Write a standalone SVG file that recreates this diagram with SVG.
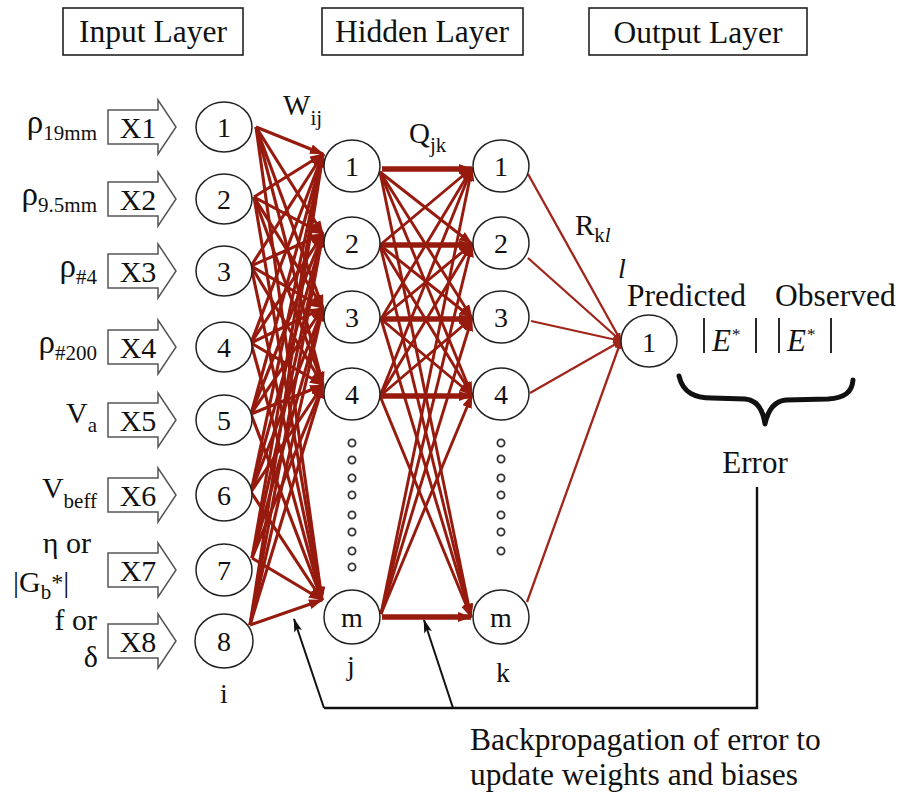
<svg xmlns="http://www.w3.org/2000/svg" xmlns:xlink="http://www.w3.org/1999/xlink" width="901" height="796" viewBox="0 0 901 796">
  <style>
    text { font-family: "Liberation Serif", "Times New Roman", serif; fill: #111; }
    .hdr { font-size: 31.5px; text-anchor: middle; }
    .box { fill: none; stroke: #222; stroke-width: 1.6; }
    .node ellipse { fill: #fff; stroke: #222; stroke-width: 1.5; }
    .node text { font-size: 28px; text-anchor: middle; }
    .inarrow { fill: #fff; stroke: #555; stroke-width: 1.5; }
    .xl { font-size: 30px; text-anchor: middle; }
    .lbl { font-size: 30px; text-anchor: end; }
    .rho { font-size: 33px; }
    .sub { font-size: 21px; }
    .w line { stroke: #961a0d; stroke-width: 3.1; marker-end: url(#ah); }
    .q line { stroke: #961a0d; stroke-width: 2.9; marker-end: url(#ah); }
    .q line.h { stroke-width: 5.5; }
    .r line { stroke: #a0251a; stroke-width: 2.3; marker-end: url(#rh); }
    .dot { fill: #fff; stroke: #333; stroke-width: 1.8; }
    .fb { fill: none; stroke: #111; stroke-width: 2.4; }
    .fbarrow { stroke: #111; stroke-width: 2; marker-end: url(#bh); }
    .big { font-size: 31.5px; }
  </style>
  <defs>
    <marker id="ah" markerUnits="userSpaceOnUse" markerWidth="14" markerHeight="10" refX="13" refY="5" orient="auto">
      <path d="M0,0 L14,5 L0,10 Z" fill="#961a0d"/>
    </marker>
    <marker id="rh" markerUnits="userSpaceOnUse" markerWidth="9" markerHeight="7" refX="8" refY="3.5" orient="auto">
      <path d="M0,0 L9,3.5 L0,7 Z" fill="#a0251a"/>
    </marker>
    <marker id="bh" markerUnits="userSpaceOnUse" markerWidth="14" markerHeight="8" refX="13" refY="4" orient="auto">
      <path d="M0,0 L14,4 L0,8 L3,4 Z" fill="#111"/>
    </marker>
    <path id="blockArrow" class="inarrow" d="M108,-17 H158 V-27 L176,0 L158,27 V17 H108 Z"/>
  </defs>

  <!-- layer headers -->
  <g id="header-input">
    <rect class="box" x="63" y="8" width="180" height="47"/>
    <text class="hdr" x="153" y="42">Input Layer</text>
  </g>
  <g id="header-hidden">
    <rect class="box" x="322" y="8" width="201" height="47"/>
    <text class="hdr" x="422" y="42">Hidden Layer</text>
  </g>
  <g id="header-output">
    <rect class="box" x="589" y="8" width="218" height="47"/>
    <text class="hdr" x="698" y="43">Output Layer</text>
  </g>

  <!-- connections -->
  <g id="connectors">
    <g class="w">
      <line x1="256" y1="127" x2="323" y2="154"/><line x1="256" y1="127" x2="323" y2="234"/><line x1="256" y1="127" x2="323" y2="308"/><line x1="256" y1="127" x2="323" y2="385"/><line x1="256" y1="127" x2="322" y2="600"/>
      <line x1="254" y1="197" x2="323" y2="154"/><line x1="254" y1="197" x2="323" y2="234"/><line x1="254" y1="197" x2="323" y2="308"/><line x1="254" y1="197" x2="323" y2="385"/><line x1="254" y1="197" x2="322" y2="600"/>
      <line x1="251" y1="266" x2="323" y2="154"/><line x1="251" y1="266" x2="323" y2="234"/><line x1="251" y1="266" x2="323" y2="308"/><line x1="251" y1="266" x2="323" y2="385"/><line x1="251" y1="266" x2="322" y2="600"/>
      <line x1="251" y1="343" x2="323" y2="154"/><line x1="251" y1="343" x2="323" y2="234"/><line x1="251" y1="343" x2="323" y2="308"/><line x1="251" y1="343" x2="323" y2="385"/><line x1="251" y1="343" x2="322" y2="600"/>
      <line x1="251" y1="414" x2="323" y2="154"/><line x1="251" y1="414" x2="323" y2="234"/><line x1="251" y1="414" x2="323" y2="308"/><line x1="251" y1="414" x2="323" y2="385"/><line x1="251" y1="414" x2="322" y2="600"/>
      <line x1="251" y1="492" x2="323" y2="154"/><line x1="251" y1="492" x2="323" y2="234"/><line x1="251" y1="492" x2="323" y2="308"/><line x1="251" y1="492" x2="323" y2="385"/><line x1="251" y1="492" x2="322" y2="600"/>
      <line x1="252" y1="558" x2="323" y2="154"/><line x1="252" y1="558" x2="323" y2="234"/><line x1="252" y1="558" x2="323" y2="308"/><line x1="252" y1="558" x2="323" y2="385"/><line x1="252" y1="558" x2="322" y2="600"/>
      <line x1="250" y1="625" x2="323" y2="154"/><line x1="250" y1="625" x2="323" y2="234"/><line x1="250" y1="625" x2="323" y2="308"/><line x1="250" y1="625" x2="323" y2="385"/><line x1="250" y1="625" x2="322" y2="600"/>
    </g>
    <g class="q">
      <line class="h" x1="382" y1="169" x2="472" y2="169"/><line x1="380" y1="172" x2="472" y2="244"/><line x1="380" y1="172" x2="472" y2="318"/><line x1="380" y1="172" x2="472" y2="395"/><line x1="380" y1="172" x2="471" y2="617"/>
      <line x1="380" y1="245" x2="472" y2="168"/><line class="h" x1="382" y1="245" x2="472" y2="245"/><line x1="380" y1="245" x2="472" y2="318"/><line x1="380" y1="245" x2="472" y2="395"/><line x1="380" y1="245" x2="471" y2="617"/>
      <line x1="381" y1="319" x2="472" y2="168"/><line x1="381" y1="319" x2="472" y2="244"/><line class="h" x1="382" y1="319" x2="472" y2="319"/><line x1="381" y1="319" x2="472" y2="395"/><line x1="381" y1="319" x2="471" y2="617"/>
      <line x1="380" y1="396" x2="472" y2="168"/><line x1="380" y1="396" x2="472" y2="244"/><line x1="380" y1="396" x2="472" y2="318"/><line class="h" x1="382" y1="396" x2="472" y2="396"/><line x1="380" y1="396" x2="471" y2="617"/>
      <line x1="381" y1="614" x2="472" y2="168"/><line x1="381" y1="614" x2="472" y2="244"/><line x1="381" y1="614" x2="472" y2="318"/><line x1="381" y1="614" x2="472" y2="395"/><line class="h" x1="382" y1="617" x2="471" y2="617"/>
    </g>
    <g class="r">
      <line x1="528" y1="174" x2="621" y2="341"/>
      <line x1="528" y1="258" x2="621" y2="341"/>
      <line x1="531" y1="321" x2="621" y2="341"/>
      <line x1="530" y1="393" x2="621" y2="341"/>
      <line x1="527" y1="602" x2="621" y2="341"/>
    </g>
    <!-- error feedback path -->
    <polyline class="fb" points="757,487 757,708 324,708"/>
    <line class="fbarrow" x1="324" y1="708" x2="294" y2="619"/>
    <line class="fbarrow" x1="453" y1="708" x2="424" y2="620"/>
  </g>

  <!-- input labels and block arrows -->
  <g id="in1"><text class="lbl" x="97" y="133"><tspan class="rho">ρ</tspan><tspan class="sub" dy="7">19mm</tspan></text><use xlink:href="#blockArrow" transform="translate(0,127)"/><text class="xl" x="138" y="138">X1</text></g>
  <g id="in2"><text class="lbl" x="97" y="205"><tspan class="rho">ρ</tspan><tspan class="sub" dy="7">9.5mm</tspan></text><use xlink:href="#blockArrow" transform="translate(0,199)"/><text class="xl" x="138" y="210">X2</text></g>
  <g id="in3"><text class="lbl" x="97" y="277"><tspan class="rho">ρ</tspan><tspan class="sub" dy="7">#4</tspan></text><use xlink:href="#blockArrow" transform="translate(0,271)"/><text class="xl" x="138" y="282">X3</text></g>
  <g id="in4"><text class="lbl" x="97" y="353"><tspan class="rho">ρ</tspan><tspan class="sub" dy="7">#200</tspan></text><use xlink:href="#blockArrow" transform="translate(0,347)"/><text class="xl" x="138" y="358">X4</text></g>
  <g id="in5"><text class="lbl" x="97" y="423">V<tspan class="sub" dy="9">a</tspan></text><use xlink:href="#blockArrow" transform="translate(0,420)"/><text class="xl" x="138" y="431">X5</text></g>
  <g id="in6"><text class="lbl" x="97" y="498">V<tspan class="sub" dy="10">beff</tspan></text><use xlink:href="#blockArrow" transform="translate(0,495)"/><text class="xl" x="138" y="506">X6</text></g>
  <g id="in7"><text class="lbl" x="91" y="553">η or</text><text x="13" y="592" font-size="30">|G<tspan class="sub" dy="7">b</tspan><tspan dy="-9" font-size="24">*</tspan><tspan dy="2">|</tspan></text><use xlink:href="#blockArrow" transform="translate(0,570)"/><text class="xl" x="138" y="581">X7</text></g>
  <g id="in8"><text class="lbl" x="97" y="630">f or</text><text class="lbl" x="98" y="667">δ</text><use xlink:href="#blockArrow" transform="translate(0,641)"/><text class="xl" x="138" y="652">X8</text></g>

  <!-- input layer nodes (i) -->
  <g id="i1" class="node"><ellipse cx="224" cy="127" rx="28" ry="25"/><text x="224" y="137">1</text></g>
  <g id="i2" class="node"><ellipse cx="224" cy="199" rx="28" ry="25"/><text x="224" y="209">2</text></g>
  <g id="i3" class="node"><ellipse cx="224" cy="271" rx="28" ry="25"/><text x="224" y="281">3</text></g>
  <g id="i4" class="node"><ellipse cx="224" cy="347" rx="28" ry="25"/><text x="224" y="357">4</text></g>
  <g id="i5" class="node"><ellipse cx="224" cy="420" rx="28" ry="25"/><text x="224" y="430">5</text></g>
  <g id="i6" class="node"><ellipse cx="224" cy="495" rx="28" ry="26"/><text x="224" y="505">6</text></g>
  <g id="i7" class="node"><ellipse cx="224" cy="570" rx="28" ry="26"/><text x="224" y="580">7</text></g>
  <g id="i8" class="node"><ellipse cx="224" cy="641" rx="29" ry="27"/><text x="224" y="651">8</text></g>

  <!-- hidden layer nodes (j) -->
  <g id="j1" class="node"><ellipse cx="352" cy="166" rx="28" ry="26"/><text x="352" y="176">1</text></g>
  <g id="j2" class="node"><ellipse cx="352" cy="243" rx="28" ry="26"/><text x="352" y="253">2</text></g>
  <g id="j3" class="node"><ellipse cx="352" cy="317" rx="28" ry="26"/><text x="352" y="327">3</text></g>
  <g id="j4" class="node"><ellipse cx="352" cy="394" rx="28" ry="26"/><text x="352" y="404">4</text></g>
  <g id="jm" class="node"><ellipse cx="352" cy="617" rx="28" ry="27"/><text x="352" y="627">m</text></g>

  <!-- hidden layer nodes (k) -->
  <g id="k1" class="node"><ellipse cx="501" cy="166" rx="28" ry="26"/><text x="501" y="176">1</text></g>
  <g id="k2" class="node"><ellipse cx="501" cy="243" rx="28" ry="26"/><text x="501" y="253">2</text></g>
  <g id="k3" class="node"><ellipse cx="501" cy="317" rx="28" ry="26"/><text x="501" y="327">3</text></g>
  <g id="k4" class="node"><ellipse cx="501" cy="394" rx="28" ry="26"/><text x="501" y="404">4</text></g>
  <g id="km" class="node"><ellipse cx="501" cy="617" rx="28" ry="27"/><text x="501" y="627">m</text></g>

  <!-- output node (l) -->
  <g id="l1" class="node"><ellipse cx="649" cy="341" rx="28" ry="26"/><text x="649" y="352">1</text></g>

  <!-- ellipsis dots -->
  <g id="dots-j">
    <circle class="dot" cx="352" cy="443" r="3.6"/><circle class="dot" cx="352" cy="460" r="3.6"/><circle class="dot" cx="352" cy="478" r="3.6"/><circle class="dot" cx="352" cy="495" r="3.6"/>
    <circle class="dot" cx="352" cy="515" r="3.6"/><circle class="dot" cx="352" cy="532" r="3.6"/><circle class="dot" cx="352" cy="551" r="3.6"/><circle class="dot" cx="352" cy="567" r="3.6"/>
  </g>
  <g id="dots-k">
    <circle class="dot" cx="501" cy="443" r="3.6"/><circle class="dot" cx="501" cy="459" r="3.6"/><circle class="dot" cx="501" cy="478" r="3.6"/><circle class="dot" cx="501" cy="495" r="3.6"/>
    <circle class="dot" cx="501" cy="515" r="3.6"/><circle class="dot" cx="501" cy="532" r="3.6"/><circle class="dot" cx="501" cy="551" r="3.6"/>
  </g>

  <!-- index and weight labels -->
  <g id="labels">
    <text x="224" y="703" font-size="28" text-anchor="middle">i</text>
    <text x="347" y="675" font-size="28">j</text>
    <text x="496" y="682" font-size="28">k</text>
    <text x="283" y="115" font-size="29">W<tspan class="sub" dy="10">ij</tspan></text>
    <text x="409" y="143" font-size="29">Q<tspan class="sub" dy="9">jk</tspan></text>
    <text x="575" y="235" font-size="29">R<tspan class="sub" dy="7">k<tspan font-style="italic">l</tspan></tspan></text>
    <text x="618" y="278" font-size="28" font-style="italic">l</text>
    <text class="big" x="627" y="306">Predicted</text>
    <text class="big" x="775" y="306">Observed</text>
  </g>

  <!-- |E*| values -->
  <g id="modulus">
    <line x1="704" y1="318" x2="704" y2="353" stroke="#111" stroke-width="1.8"/>
    <line x1="756" y1="318" x2="756" y2="353" stroke="#111" stroke-width="1.8"/>
    <text x="712" y="351" font-size="31" font-style="italic">E</text>
    <text x="732" y="340" font-size="17">*</text>
    <line x1="779" y1="318" x2="779" y2="353" stroke="#111" stroke-width="1.8"/>
    <line x1="831" y1="318" x2="831" y2="353" stroke="#111" stroke-width="1.8"/>
    <text x="787" y="351" font-size="31" font-style="italic">E</text>
    <text x="807" y="340" font-size="17">*</text>
  </g>

  <!-- error brace -->
  <g id="error">
    <path d="M679,376 C683,393 695,398 712,398 L745,399 C757,400 763,410 765,424 C768,410 774,401 786,400 L828,399 C845,398 852,392 853,380" fill="none" stroke="#111" stroke-width="5" stroke-linecap="round" stroke-linejoin="round"/>
    <text x="755" y="473" font-size="31" text-anchor="middle">Error</text>
  </g>

  <g id="backprop-note">
    <text class="big" x="470" y="750">Backpropagation of error to</text>
    <text class="big" x="470" y="785">update weights and biases</text>
  </g>
</svg>
